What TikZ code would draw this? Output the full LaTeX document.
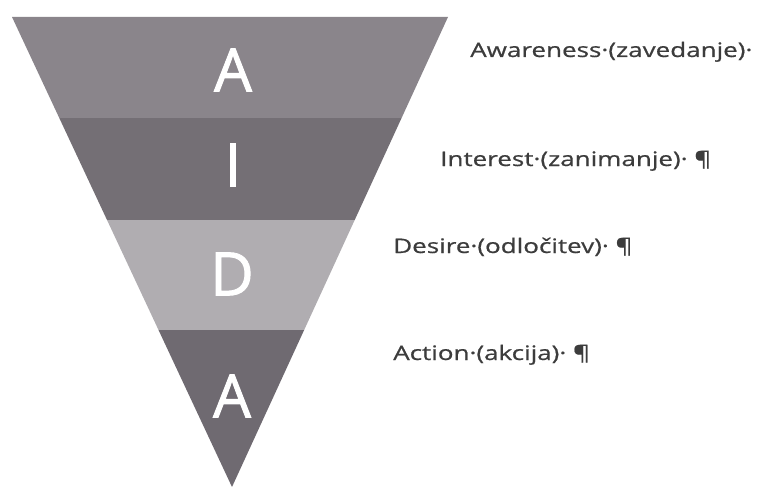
\documentclass[tikz,border=0pt]{standalone}
\usepackage{fontspec}
\setmainfont{Open Sans}
\newfontfamily\letterfont{Open Sans}[FakeBold=1.5]
\newfontfamily\stagefont{Open Sans}[FakeBold=0.6]
\usetikzlibrary{calc,positioning}

\definecolor{awarenessgray}{RGB}{138,133,139}
\definecolor{interestgray}{RGB}{116,111,117}
\definecolor{desiregray}{RGB}{176,173,177}
\definecolor{actiongray}{RGB}{111,106,113}
\definecolor{textgray}{RGB}{60,60,60}

\begin{document}
\begin{tikzpicture}[x=1pt, y=-1pt,
  letter/.style = {text=white, font=\letterfont\fontsize{60}{60}\selectfont},
  stage/.style = {anchor=base west, inner sep=0pt, xscale=1.3, text=textgray, font=\stagefont\fontsize{20}{24}\selectfont}]
\useasboundingbox (0,0) rectangle (763,487);

\coordinate (tl) at (12,17);
\coordinate (tr) at (448,17);
\coordinate (ap) at (232,487);

% funnel bands
\fill[awarenessgray] (tl) -- (tr) -- ($(tr)!0.215!(ap)$) -- ($(tl)!0.215!(ap)$) -- cycle;
\fill[interestgray] ($(tl)!0.215!(ap)$) -- ($(tr)!0.215!(ap)$) -- ($(tr)!0.432!(ap)$) -- ($(tl)!0.432!(ap)$) -- cycle;
\fill[desiregray] ($(tl)!0.432!(ap)$) -- ($(tr)!0.432!(ap)$) -- ($(tr)!0.666!(ap)$) -- ($(tl)!0.666!(ap)$) -- cycle;
\fill[actiongray] ($(tl)!0.666!(ap)$) -- ($(tr)!0.666!(ap)$) -- (ap) -- cycle;

\node[letter] (a1) at (233,70) {A};
\node[letter] (i) at (233,165) {I};
\node[letter] (d) at (232,274) {D};
\node[letter] (a2) at (232,396) {A};

\node[stage] (awareness) at (470,57) {Awareness·(zavedanje)·};
\node[stage] (interest) at (440,166) {Interest·(zanimanje)· ¶};
\node[stage] (desire) at (393,253) {Desire·(odločitev)· ¶};
\node[stage] (action) at (393,360) {Action·(akcija)· ¶};

\end{tikzpicture}
\end{document}
